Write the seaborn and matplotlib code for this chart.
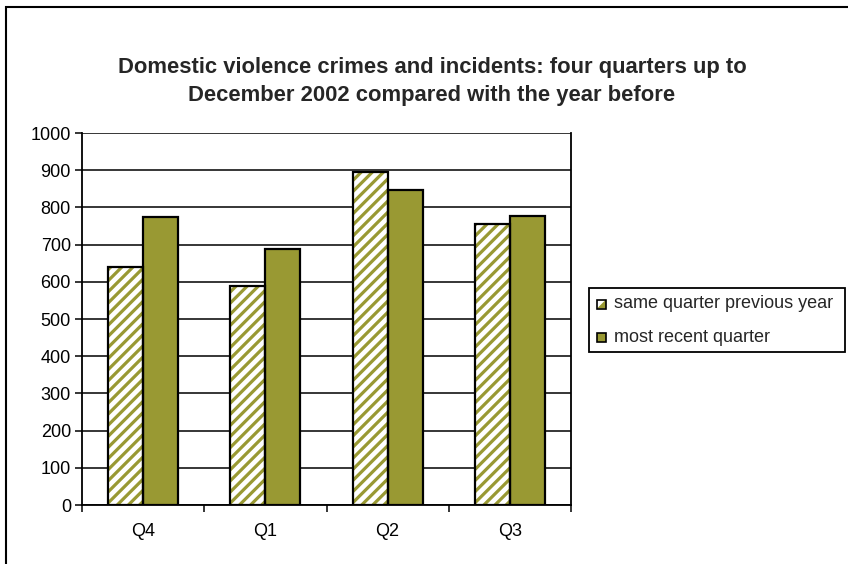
import matplotlib
matplotlib.use("Agg")
import matplotlib.pyplot as plt
import seaborn as sns
import pandas as pd
import numpy as np
from matplotlib.patches import Rectangle, Polygon

quarters = ["Q4", "Q1", "Q2", "Q3"]
series_names = ["same quarter previous year", "most recent quarter"]
prev_year = [641, 590, 895, 755]
recent = [773, 687, 846, 776]

olive = "#999933"

df = pd.DataFrame({
    "quarter": quarters * 2,
    "series": [series_names[0]] * 4 + [series_names[1]] * 4,
    "value": prev_year + recent,
})

sns.set_style("white")
plt.rcParams["font.family"] = ["Liberation Sans", "DejaVu Sans"]
plt.rcParams["hatch.linewidth"] = 2.3

fig = plt.figure(figsize=(8.48, 5.64), dpi=100)
ax = fig.add_axes([82 / 848, 59 / 564, (571 - 82) / 848, (505 - 133) / 564])

sns.barplot(data=df, x="quarter", y="value", hue="series", order=quarters,
            hue_order=series_names, palette=[olive, olive], width=0.574,
            gap=0, ax=ax, legend=False, saturation=1)

# style bars
n = len(quarters)
for i, p in enumerate(ax.patches[:2 * n]):
    x, y, w, h = p.get_x(), p.get_y(), p.get_width(), p.get_height()
    if i < n:
        p.set_facecolor("white")
        p.set_edgecolor(olive)
        p.set_hatch("///")
        p.set_linewidth(0)
    else:
        p.set_facecolor(olive)
        p.set_linewidth(0)
    ax.add_patch(Rectangle((x, y), w, h, fill=False, edgecolor="black",
                           linewidth=1.6, zorder=p.get_zorder() + 0.1))

ax.set_ylim(0, 1000)
ax.set_xlim(-0.5, n - 0.5)
ax.set_yticks(np.arange(0, 1001, 100))
ax.yaxis.grid(True, color="black", linewidth=1.1)
ax.set_axisbelow(True)
ax.set_xlabel("")
ax.set_ylabel("")
for s in ax.spines.values():
    s.set_color("black")
    s.set_linewidth(1.3)
ax.spines["top"].set_visible(False)
ax.tick_params(axis="y", which="major", length=5, width=1.1, color="black",
               labelsize=13, pad=3, left=True, labelcolor="black")
ax.tick_params(axis="x", which="major", length=0, labelsize=13, pad=13,
               labelcolor="black")
ax.set_xticks(np.arange(-0.5, n, 1.0), minor=True)
ax.tick_params(axis="x", which="minor", length=5, width=1.1, color="black",
               bottom=True)

# title
fig.text(432 / 848, 1 - 68 / 564,
         "Domestic violence crimes and incidents: four quarters up to",
         ha="center", va="center", fontsize=15.8, fontweight="bold")
fig.text(432 / 848, 1 - 96 / 564,
         "December 2002 compared with the year before",
         ha="center", va="center", fontsize=15.8, fontweight="bold")

# legend box
lx0, ly0, lx1, ly1 = 589 / 848, 1 - 352 / 564, 845 / 848, 1 - 288 / 564
fig.patches.append(Rectangle((lx0, ly0), lx1 - lx0, ly1 - ly0,
                             transform=fig.transFigure, fill=False,
                             edgecolor="black", linewidth=1.3))
sq = 9 / 848
sqh = 9 / 564
ys = [1 - 304 / 564, 1 - 337 / 564]
for k, (lab, yy) in enumerate(zip(series_names, ys)):
    bx = 597 / 848
    if k == 0:
        fig.patches.append(Rectangle((bx, yy - sqh / 2), sq, sqh,
                                     transform=fig.transFigure,
                                     facecolor="white", edgecolor="none"))
        fig.patches.append(Polygon([(bx + sq, yy - sqh / 2), (bx + sq, yy + sqh / 2),
                                    (bx, yy - sqh / 2)],
                                   transform=fig.transFigure,
                                   facecolor=olive, edgecolor="none"))
    else:
        fig.patches.append(Rectangle((bx, yy - sqh / 2), sq, sqh,
                                     transform=fig.transFigure,
                                     facecolor=olive, edgecolor="none"))
    fig.patches.append(Rectangle((bx, yy - sqh / 2), sq, sqh,
                                 transform=fig.transFigure, fill=False,
                                 edgecolor="black", linewidth=1.2))
    fig.text(614 / 848, yy, lab, ha="left", va="center", fontsize=13)

# outer chart border (only left/top visible)
fig.patches.append(Rectangle((6 / 848, -0.05), 1.2, 1 - 7 / 564 + 0.05,
                             transform=fig.transFigure, fill=False,
                             edgecolor="black", linewidth=1.5))

fig.savefig("out.png", dpi=100, facecolor="white")
